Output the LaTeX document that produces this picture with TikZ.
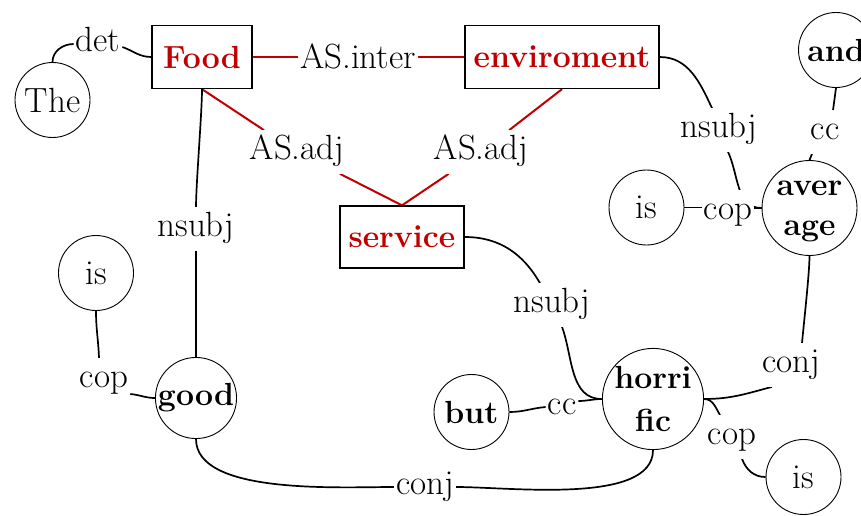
\documentclass[tikz,border=0pt]{standalone}
\usetikzlibrary{backgrounds}
\definecolor{boxred}{RGB}{192,0,0}
\begin{document}
\begin{tikzpicture}[x=1pt,y=1pt,
  every node/.style={font=\fontsize{35}{36}\selectfont},
  word/.style={circle,draw,line width=0.9pt,minimum size=75pt,inner sep=0pt,align=center},
  bword/.style={word,font=\fontsize{32}{34}\selectfont\bfseries},
  aspect/.style={draw,line width=1.3pt,inner sep=0pt,text=boxred,font=\fontsize{32}{34}\selectfont\bfseries},
  rel/.style={fill=white,inner xsep=2pt,inner ysep=5pt,text height=24.5pt,text depth=8.75pt},
  dep/.style={line width=1.7pt},
  asrel/.style={line width=2pt,draw=boxred}
]
\useasboundingbox (0,0) rectangle (861,-516);
% words
\node[word] (the) at (52.5,-100) {The};
\node[aspect,minimum width=100pt,minimum height=63pt] (food) at (202,-57) {Food};
\node[aspect,minimum width=194pt,minimum height=63pt] (env) at (562,-57) {enviroment};
\node[aspect,minimum width=124pt,minimum height=62pt] (service) at (402,-237) {service};
\node[bword] (and) at (836,-50) {and};
\node[word] (isA) at (646.5,-207.5) {is};
\node[bword] (avg) at (809.5,-208) {\vphantom{h}aver\\[6pt]age};
\node[word] (isG) at (96,-273) {is};
\node[bword] (good) at (196,-398) {good};
\node[bword] (but) at (471.5,-412) {but};
\node[bword] (hor) at (653,-399) {horri\\[9pt]fic};
\node[word] (isH) at (803.5,-477) {is};
% relation labels
\node[rel] (det) at (98,-44) {det};
\node[rel] (inter) at (358,-61) {AS.inter};
\node[rel] (adjL) at (297,-152) {AS.adj};
\node[rel] (adjR) at (481,-152) {AS.adj};
\node[rel] (nsF) at (196,-229) {nsubj};
\node[rel] (nsE) at (719,-130) {nsubj};
\node[rel] (ccA) at (825,-132) {cc};
\node[rel] (copA) at (728,-212) {cop};
\node[rel] (nsS) at (552,-305) {nsubj};
\node[rel] (conjA) at (791,-365) {conj};
\node[rel] (ccB) at (562,-407) {cc};
\node[rel] (copH) at (732,-437) {cop};
\node[rel] (conjG) at (425,-487) {conj};
\node[rel] (copG) at (104,-380) {cop};
% connectors
\begin{scope}[on background layer]
\draw[dep] (the.north) to[out=90,in=180] (det.west);
\draw[dep] ([yshift=-3pt]det.east) to[out=-20,in=180] (food.west);
\draw[asrel] (food.east) -- (food.east -| inter.west);
\draw[asrel] (inter.east |- env.west) -- (env.west);
\draw[asrel] (food.south) -- (adjL);
\draw[asrel] (env.south) -- (adjR);
\draw[asrel] (service.north) -- (adjL);
\draw[asrel] (service.north) -- (adjR);
\draw[dep] (food.south) to[out=-90,in=90,looseness=0.5] (nsF.north);
\draw[dep] (nsF.south) -- (good.north);
\draw[dep] (env.east) to[out=0,in=115] ([xshift=-7pt]nsE.north);
\draw[dep] ([xshift=9pt]nsE.south) to[out=-65,in=180] (avg.west);
\draw[dep] (and.south) -- ([xshift=8pt]ccA.north);
\draw[dep] ([xshift=-13pt]ccA.south) -- (avg.north);
\draw[dep] (isA.east) -- (isA.east -| copA.west);
\draw[dep] (copA.east |- avg.west) -- (avg.west);
\draw[dep] (service.east) to[out=0,in=120] ([xshift=-12pt]nsS.north);
\draw[dep] ([xshift=10pt]nsS.south) to[out=-70,in=180] (hor.west);
\draw[dep] (avg.south) to[out=-90,in=85,looseness=0.5] ([xshift=11pt]conjA.north);
\draw[dep] ([xshift=-19pt]conjA.south) to[out=195,in=0] (hor.east);
\draw[dep] (but.east) to[out=0,in=185] (ccB.west);
\draw[dep] ([yshift=6pt]ccB.east) to[out=0,in=180] (hor.west);
\draw[dep] (hor.east) to[out=0,in=120] ([xshift=-12pt]copH.north);
\draw[dep] ([xshift=10pt]copH.south) to[out=-70,in=180] (isH.west);
\draw[dep] (good.south) to[out=-90,in=180,looseness=0.7] (conjG.west);
\draw[dep] (conjG.east) to[out=0,in=-90,looseness=0.7] (hor.south);
\draw[dep] (isG.south) to[out=-90,in=92] ([xshift=-5pt]copG.north);
\draw[dep] ([yshift=-14pt]copG.east) to[out=-5,in=180] (good.west);
\end{scope}
\end{tikzpicture}
\end{document}
